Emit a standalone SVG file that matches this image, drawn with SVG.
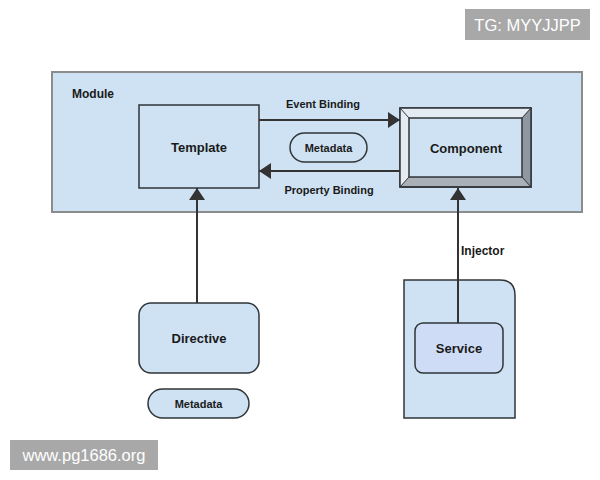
<svg xmlns="http://www.w3.org/2000/svg" width="600" height="480" viewBox="0 0 600 480">
<style>
text{font-family:"Liberation Sans",Arial,sans-serif;fill:#1a1a1a;font-weight:bold}
.node{fill:#cfe2f3;stroke:#2f3538;stroke-width:1.5}
.lbl{font-size:11px}
.big{font-size:13px;text-anchor:middle}
.conn{stroke:#333;stroke-width:2;fill:none}
.wm{fill:#a8a8a8}
.wmt{fill:#fff;font-weight:normal;font-size:16.5px}
</style>
<defs>
<marker id="ah" viewBox="0 0 12 16" refX="12" refY="8" markerWidth="12" markerHeight="16" markerUnits="userSpaceOnUse" orient="auto">
<path d="M0,0 L12,8 L0,16 Z" fill="#333"/>
</marker>
</defs>
<rect width="600" height="480" fill="#fff"/>
<g id="module">
<rect x="52" y="72" width="530" height="140" fill="#cfe2f3" stroke="#8c8c8c" stroke-width="2"/>
<text x="72" y="98" style="font-size:12px">Module</text>
</g>
<g id="template">
<rect class="node" x="139" y="105" width="120" height="83"/>
<text class="big" x="199" y="152">Template</text>
</g>
<g id="metadata1">
<rect class="node" x="290" y="133" width="77" height="29" rx="14.5"/>
<text class="lbl" x="328.5" y="151.5" text-anchor="middle">Metadata</text>
</g>
<g id="component">
<rect x="400" y="108" width="131" height="79" fill="#a9b0b8" stroke="#2f3538" stroke-width="1.5"/>
<path d="M400,108 L531,108 L522,118 L409,118 L409,177 L400,187 Z" fill="#e4ebf3"/>
<path d="M531,108 L531,187 L522,177 L522,118 Z" fill="#8f979f"/>
<rect x="409" y="118" width="113" height="59" fill="#cfe2f3" stroke="#2f3538" stroke-width="1.5"/>
<rect x="400" y="108" width="131" height="79" fill="none" stroke="#2f3538" stroke-width="1.5"/>
<path d="M400,108 L409,118 M531,108 L522,118 M531,187 L522,177 M400,187 L409,177" stroke="#2f3538" stroke-width="1"/>
<text class="big" x="466" y="153">Component</text>
</g>
<g id="directive">
<rect class="node" x="139" y="303" width="120" height="70" rx="12"/>
<text class="big" x="199" y="343">Directive</text>
</g>
<g id="metadata2">
<rect class="node" x="148" y="389" width="101" height="29" rx="14.5"/>
<text class="lbl" x="198.5" y="407.5" text-anchor="middle">Metadata</text>
</g>
<g id="injector">
<path class="node" d="M404,280 L500,280 Q515,280 515,295 L515,418 L404,418 Z"/>
</g>
<g id="service">
<rect x="415" y="323" width="88" height="50" rx="8" fill="#cfdcf5" stroke="#2f3538" stroke-width="1.5"/>
<text class="big" x="459" y="353">Service</text>
</g>
<g id="connectors">
<line class="conn" x1="259" y1="120" x2="400" y2="120" marker-end="url(#ah)"/>
<line class="conn" x1="400" y1="171" x2="259" y2="171" marker-end="url(#ah)"/>
<line class="conn" x1="197" y1="303" x2="197" y2="188" marker-end="url(#ah)"/>
<line class="conn" x1="458" y1="323" x2="458" y2="188" marker-end="url(#ah)"/>
<text class="lbl" x="323" y="108" text-anchor="middle">Event Binding</text>
<text class="lbl" x="329" y="194" text-anchor="middle">Property Binding</text>
<text x="461" y="255" style="font-size:12px">Injector</text>
</g>
<g id="watermarks">
<rect class="wm" x="465" y="9" width="125" height="31"/>
<text class="wmt" x="527.5" y="30.5" text-anchor="middle">TG: MYYJJPP</text>
<rect class="wm" x="10" y="440" width="148" height="30"/>
<text class="wmt" x="84" y="461" text-anchor="middle">www.pg1686.org</text>
</g>
</svg>
